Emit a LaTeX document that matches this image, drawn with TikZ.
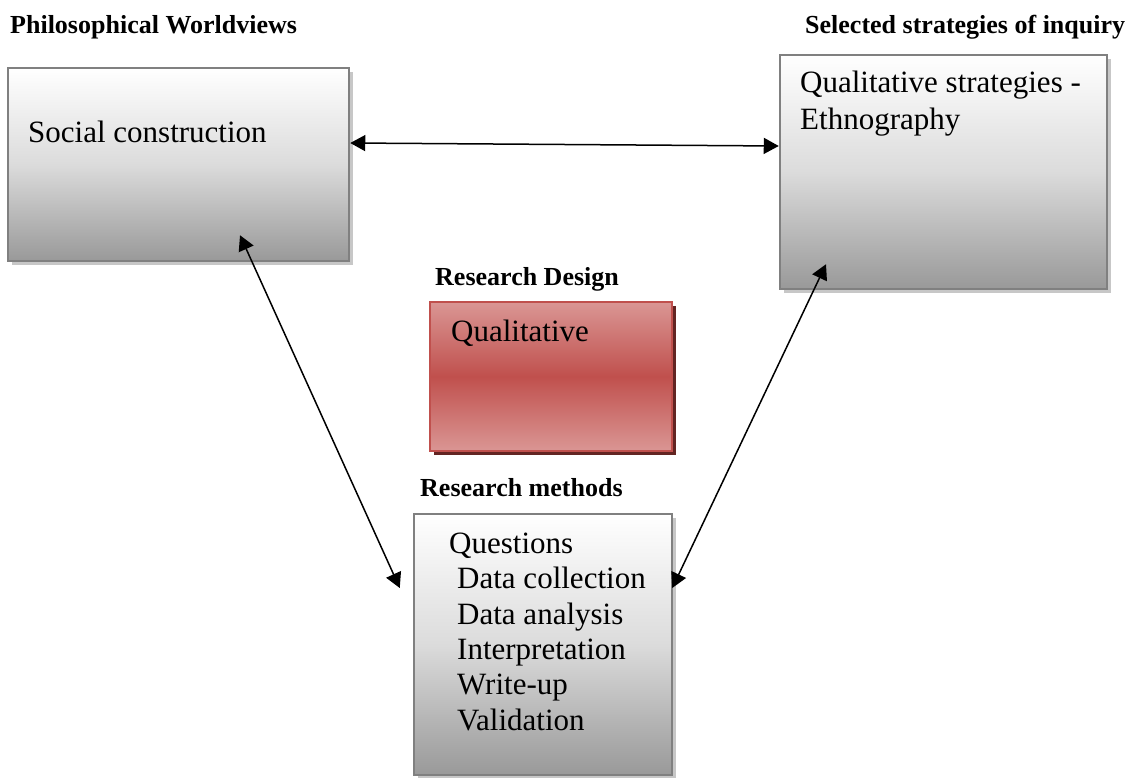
\documentclass[tikz,border=0pt]{standalone}
\usepackage{fontspec}
\setmainfont{Liberation Serif}
\usetikzlibrary{positioning,arrows.meta,shadows}

\definecolor{redmid}{HTML}{C0504D}
\definecolor{redlight}{HTML}{DA9694}
\definecolor{reddark}{HTML}{632523}

\tikzset{
	graybox/.style={draw=black!50, line width=2.5pt,
		top color=white, bottom color=black!40, middle color=black!14,
		drop shadow={shadow xshift=4pt, shadow yshift=-4pt, fill=black!22, opacity=1}},
	redbox/.style={draw=redmid, line width=2.5pt,
		top color=redlight, bottom color=redlight, middle color=redmid,
		drop shadow={shadow xshift=4pt, shadow yshift=-4pt, fill=reddark, opacity=1}},
	boxtext/.style={inner sep=0pt, anchor=base west, font=\fontsize{31}{36}\selectfont},
	heading/.style={inner sep=0pt, anchor=base west, font=\fontsize{26}{30}\selectfont\bfseries},
	link/.style={{Triangle[length=15pt,width=16pt]}-{Triangle[length=15pt,width=16pt]}, line width=1.5pt}
}

\begin{document}
\begin{tikzpicture}[x=1pt,y=-1pt]
	\useasboundingbox (0,0) rectangle (1131,778);

	% Headings
	\node[heading] (lblphil) at (10,34) {Philosophical Worldviews};
	\node[heading] (lblstrat) at (805,34) {Selected strategies of inquiry};
	\node[heading] (lbldesign) at (435,285) {Research Design};
	\node[heading] (lblmeth) at (420,496) {Research methods};

	% Boxes
	\node[graybox, minimum width=341pt, minimum height=193pt] (soc) at (178.5,164.5) {};
	\node[graybox, minimum width=327pt, minimum height=234pt] (strat) at (943.5,172) {};
	\node[redbox, minimum width=242pt, minimum height=149pt] (design) at (551,376.5) {};
	\node[graybox, minimum width=258pt, minimum height=261pt] (meth) at (543,644.5) {};

	% Box texts
	\node[boxtext] (soctext) at (28,143) {Social construction};
	\node[boxtext] (strattext1) at (800,93) {Qualitative strategies -};
	\node[boxtext] (strattext2) at (800,130) {Ethnography};
	\node[boxtext] (designtext) at (451,341) {Qualitative};
	\node[boxtext] (methtext0) at (449,553.5) {Questions};
	\foreach \txt [count=\i] in {Data collection, Data analysis, Interpretation, Write-up, Validation} {
		\node[boxtext] (methtext\i) at (457,553.5+35.3*\i) {\txt};
	}

	% Connectors
	\draw[link] ([yshift=21.5pt]soc.east) -- ([yshift=26pt]strat.west);
	\draw[link] ([xshift=61.5pt,yshift=27pt]soc.south) -- ([xshift=-13pt,yshift=56.5pt]meth.west);
	\draw[link] ([xshift=-117.5pt,yshift=26pt]strat.south) -- ([xshift=-1pt,yshift=56.5pt]meth.east);

\end{tikzpicture}
\end{document}
